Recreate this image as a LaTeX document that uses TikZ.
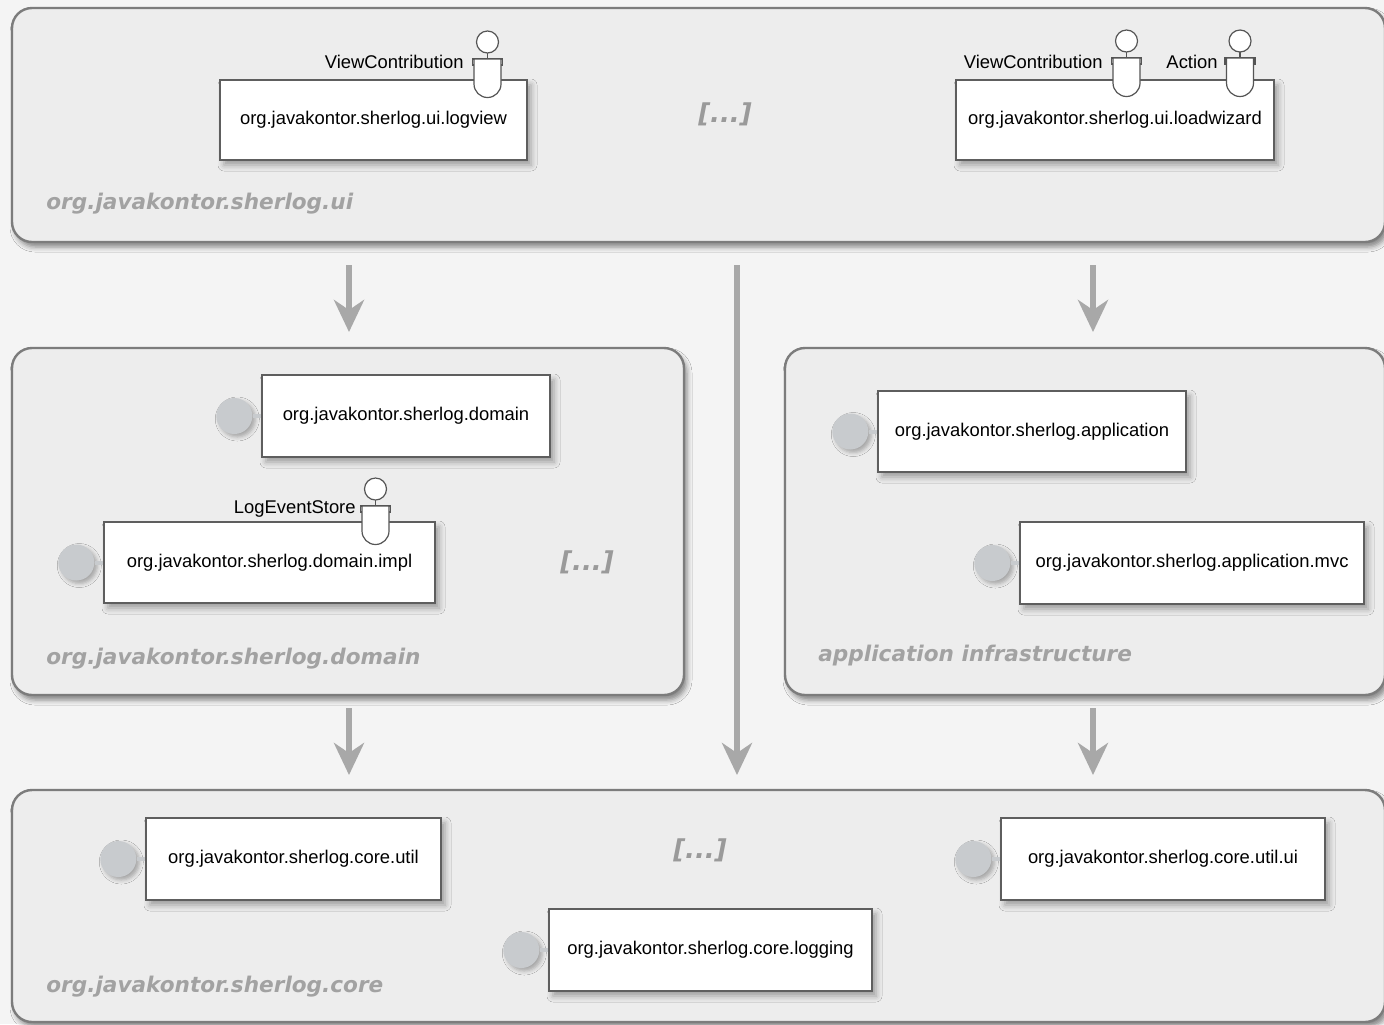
\documentclass[tikz,border=0pt]{standalone}
\usepackage{fontspec}
\setmainfont{Liberation Sans}
\newfontfamily\layerfont{DejaVu Sans}
\usetikzlibrary{arrows.meta,shadows.blur,calc}

\definecolor{bgcol}{HTML}{F4F4F4}
\definecolor{cfill}{HTML}{EDEDED}
\definecolor{cborder}{HTML}{7C7C7C}
\definecolor{compborder}{HTML}{5E5E5E}
\definecolor{provfill}{HTML}{C8CBCE}
\definecolor{arrowgrey}{HTML}{A8A8A8}
\definecolor{layergrey}{HTML}{A2A2A2}
\definecolor{moregrey}{HTML}{9A9A9A}
\definecolor{ifcol}{HTML}{555555}

\begin{document}
\begin{tikzpicture}[x=0.5pt,y=-0.5pt,
  wh/.style 2 args={minimum width=#1*0.5pt, minimum height=#2*0.5pt},
  container/.style={draw=cborder, line width=1.2pt, fill=cfill, rounded corners=10pt, inner sep=0pt,
    blur shadow={shadow xshift=1.5pt, shadow yshift=-2.5pt, shadow blur radius=2.5pt, shadow opacity=45}},
  comp/.style={draw=compborder, line width=0.7pt, fill=white, inner sep=0pt,
    font=\fontsize{9.2}{11}\selectfont,
    blur shadow={shadow xshift=2pt, shadow yshift=-2.5pt, shadow blur radius=3pt, shadow opacity=35}},
  prov/.style={circle, fill=provfill, minimum size=18pt, inner sep=0pt,
    blur shadow={shadow xshift=1.5pt, shadow yshift=-1.5pt, shadow blur radius=2pt, shadow opacity=30}},
  stub/.style={draw=provfill, line width=2pt},
  ifline/.style={draw=ifcol, line width=0.6pt},
  iflabel/.style={font=\fontsize{9.2}{11}\selectfont, inner sep=0pt, anchor=east},
  deparrow/.style={draw=arrowgrey, line width=3pt, -{Stealth[length=16pt,width=15pt,inset=5pt]}},
  layer/.style={font=\layerfont\bfseries\itshape\fontsize{10.8}{13}\selectfont, text=layergrey,
    anchor=base west, inner sep=0pt},
  more/.style={font=\layerfont\bfseries\itshape\fontsize{13}{16}\selectfont, text=moregrey, inner sep=0pt},
  reqif/.pic={
    \draw[ifline, fill=white] (-15,0) rectangle (15,6);
    \draw[ifline, fill=white] (-13.5,0) -- (13.5,0) -- (13.5,25)
      arc[start angle=0, end angle=-180, radius=6.75pt] -- cycle;
    \draw[ifline] (0,-6) -- (0,0);
    \draw[ifline, fill=white] (0,-17) circle[radius=5.5pt];
  }
]
\useasboundingbox (0,0) rectangle (1384,1024);
\clip (0,0) rectangle (1384,1024);
\fill[bgcol] (0,0) rectangle (1384,1024);

% layer containers
\node[container, wh={1373}{234}] (ui) at (698.5,125) {};
\node[container, wh={672}{347}] (dom) at (348,521.5) {};
\node[container, wh={600}{347}] (app) at (1085,521.5) {};
\node[container, wh={1373}{232}] (core) at (698.5,906) {};

% layer names
\node[layer] (uiname) at (46,209) {org.javakontor.sherlog.ui};
\node[layer] (domname) at (46,664) {org.javakontor.sherlog.domain};
\node[layer] (appname) at (818,661) {application infrastructure};
\node[layer] (corename) at (46,992) {org.javakontor.sherlog.core};

% omitted bundles
\node[more] (uimore) at (725,114) {[...]};
\node[more] (dommore) at (587,562) {[...]};
\node[more] (coremore) at (700,850) {[...]};

% ui bundles
\node[comp, wh={307}{80}] (logview) at (373.5,120) {org.javakontor.sherlog.ui.logview};
\node[comp, wh={318}{80}] (loadwiz) at (1115,120) {org.javakontor.sherlog.ui.loadwizard};
\pic at (487.5,59) {reqif};
\node[iflabel] (lvvc) at (464,62) {ViewContribution};
\pic at (1126.5,58) {reqif};
\node[iflabel] (lwvc) at (1103,62) {ViewContribution};
\pic at (1240,58) {reqif};
\node[iflabel] (lwact) at (1218,62) {Action};

% domain bundles
\node[comp, wh={288}{82}] (domain) at (406,416) {org.javakontor.sherlog.domain};
\node[comp, wh={331}{81}] (impl) at (269.5,562.5) {org.javakontor.sherlog.domain.impl};
\pic at (375.5,506) {reqif};
\node[iflabel] (les) at (356,509) {LogEventStore};

% application bundles
\node[comp, wh={308}{81}] (appl) at (1032,431.5) {org.javakontor.sherlog.application};
\node[comp, wh={344}{82}] (mvc) at (1192,563) {org.javakontor.sherlog.application.mvc};

% core bundles
\node[comp, wh={295}{82}] (util) at (293.5,859) {org.javakontor.sherlog.core.util};
\node[comp, wh={324}{82}] (utilui) at (1163,859) {org.javakontor.sherlog.core.util.ui};
\node[comp, wh={323}{82}] (logging) at (710.5,950) {org.javakontor.sherlog.core.logging};

% exported packages
\foreach \b in {domain,impl,appl,mvc,util,utilui,logging}{
  \node[prov] (p\b) at ($(\b.west)+(-27,0)$) {};
  \draw[stub] (p\b.east) -- (\b.west);
}

% layer dependencies
\coordinate (d1a) at (349,265);  \coordinate (d1b) at (349,332);
\coordinate (d2a) at (1093,265); \coordinate (d2b) at (1093,332);
\coordinate (d3a) at (737,265);  \coordinate (d3b) at (737,775);
\coordinate (d4a) at (349,708);  \coordinate (d4b) at (349,775);
\coordinate (d5a) at (1093,708); \coordinate (d5b) at (1093,775);
\foreach \d in {d1,d2,d3,d4,d5}{
  \draw[deparrow] (\d a) -- (\d b);
}
\end{tikzpicture}
\end{document}
